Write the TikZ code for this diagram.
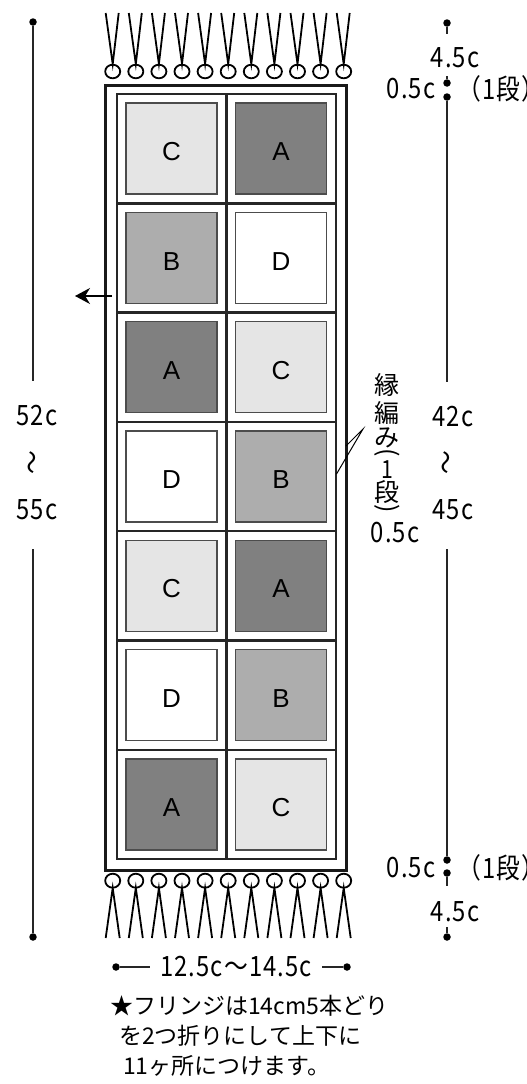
\documentclass[tikz,border=0pt]{standalone}
\usepackage{fontspec}
\setmainfont{Noto Sans CJK JP}
\newfontfamily\numfont{Noto Sans CJK JP}[FakeStretch=0.85,LetterSpace=4]
\newfontfamily\lettfont{Liberation Sans}
\usetikzlibrary{arrows.meta}
\definecolor{tileA}{gray}{0.50}
\definecolor{tileB}{gray}{0.68}
\definecolor{tileC}{gray}{0.90}
\definecolor{tileD}{gray}{1.00}
\tikzstyle{tile}=[draw=black!70,line width=1.3pt,minimum size=91pt,inner sep=0pt,text height=24pt,font=\lettfont\fontsize{26}{26}\selectfont]
\tikzstyle{dot}=[circle,fill=black,minimum size=7.5pt,inner sep=0pt]
\tikzstyle{dimtext}=[inner sep=0pt,font=\numfont\fontsize{28}{30}\selectfont]
\tikzstyle{kanji}=[inner sep=0pt,font=\fontsize{25}{28}\selectfont]
\tikzstyle{note}=[inner sep=0pt,font=\fontsize{23}{30}\selectfont]
\tikzstyle{dimline}=[line width=1.3pt,black!85]
\tikzstyle{fringe}=[line width=1.8pt]

\begin{document}
\begin{tikzpicture}[x=1pt,y=-1pt]
\useasboundingbox (0,0) rectangle (527,1084);

% mat
\draw[line width=3pt,black!90] (105,85) rectangle (346,870);
\draw[line width=2.6pt,black!85] (117,94) rectangle (336,859);
\draw[line width=2.4pt,black!85] (226.5,94) -- (226.5,859);
\foreach \k in {1,...,6}
  \draw[line width=2.4pt,black!85] (117,94+109.3*\k) -- (336,94+109.3*\k);

\node[tile,fill=tileC] at (171.5, 148.6) (q11) {C};
\node[tile,fill=tileA] at (281, 148.6) (q12) {A};
\node[tile,fill=tileB] at (171.5, 258) (q21) {B};
\node[tile,fill=tileD] at (281, 258) (q22) {D};
\node[tile,fill=tileA] at (171.5, 367.2) (q31) {A};
\node[tile,fill=tileC] at (281, 367.2) (q32) {C};
\node[tile,fill=tileD] at (171.5, 476.5) (q41) {D};
\node[tile,fill=tileB] at (281, 476.5) (q42) {B};
\node[tile,fill=tileC] at (171.5, 585.8) (q51) {C};
\node[tile,fill=tileA] at (281, 585.8) (q52) {A};
\node[tile,fill=tileD] at (171.5, 695.2) (q61) {D};
\node[tile,fill=tileB] at (281, 695.2) (q62) {B};
\node[tile,fill=tileA] at (171.5, 804.5) (q71) {A};
\node[tile,fill=tileC] at (281, 804.5) (q72) {C};

% fringes
\foreach \i in {0,...,10}{
  \pgfmathsetmacro\fx{112.7+23.1*\i}
  \draw[fringe] (\fx-7,13) -- (\fx,64) -- (\fx+6,13);
  \draw[fringe] (\fx,71.5) ellipse (7.5 and 6.8);
  \draw[fringe] (\fx,880.7) ellipse (7.5 and 7);
  \draw[fringe] (\fx-7,938) -- (\fx,888) -- (\fx+7,938);
}

% direction arrow
\coordinate (arrS) at (112,296);
\coordinate (arrE) at (75,296);
\draw[line width=1.3pt,-{Stealth[length=15pt,width=16pt]}] (arrS) -- (arrE);

% left length
\node[dot] at (33,22) (lt) {};
\node[dot] at (33,937) (lb) {};
\node[dimtext] at (37,416) (l52) {52c};
\node[dimtext] at (35,463) (lw) {\rotatebox{90}{〜}};
\node[dimtext] at (37,510) (l55) {55c};
\draw[dimline,shorten >=24pt] (lt) -- (lt |- l52.north);
\draw[dimline,shorten >=29pt] (lb) -- (lb |- l55.south);

% right length
\node[dot] at (447,23) (rt1) {};
\node[dot] at (447,83) (rt2) {};
\node[dot] at (447,97) (rt3) {};
\node[dot] at (447,860) (rb1) {};
\node[dot] at (447,873) (rb2) {};
\node[dot] at (447,937) (rb3) {};
\node[dimtext] at (455,58) (rfT) {4.5c};
\node[dimtext] at (411,89) (reT) {0.5c};
\node[dimtext,anchor=west] at (457,89) (rsT) {（1段）};
\node[dimtext] at (453,417) (r42) {42c};
\node[dimtext] at (449,463) (rw) {\rotatebox{90}{〜}};
\node[dimtext] at (453,510) (r45) {45c};
\node[dimtext] at (411,868) (reB) {0.5c};
\node[dimtext,anchor=west] at (457,868) (rsB) {（1段）};
\node[dimtext] at (455,912) (rfB) {4.5c};
\draw[dimline,shorten >=14pt] (rt1) -- (rt1 |- rfT.north);
\draw[dimline,shorten >=8pt] (rt2) -- (rt2 |- rfT.south);
\draw[dimline,shorten >=24pt] (rt3) -- (rt3 |- r42.north);
\draw[dimline,shorten >=29pt] (rb1) -- (rb1 |- r45.south);
\draw[dimline,shorten >=16pt] (rb2) -- (rb2 |- rfB.north);
\draw[dimline,shorten >=5pt] (rb3) -- (rb3 |- rfB.south);

% edging
\foreach \ch/\yy [count=\k] in {縁/385,編/413,み/438,\rotatebox{-90}{(}/453,\numfont 1/470,段/492,\rotatebox{-90}{)}/509}
  \node[kanji] at (387,\yy) (edg\k) {\ch};
\node[dimtext] at (395,533) (edg0) {0.5c};
\coordinate (ldr) at (363,429);
\coordinate (ldrIn) at (336.5,474);
\coordinate (ldrOut) at (346,446);
\draw[line width=1pt] (ldrIn) -- (ldr) -- (ldrOut);

% width
\node[dot] at (116,967) (wl) {};
\node[dot] at (347,967) (wr) {};
\node[dimtext,inner xsep=10pt] at (236,967) (wlab) {12.5c〜14.5c};
\draw[dimline] (wl) -- (wlab) -- (wr);

\node[note,align=left,anchor=north west] at (110,995) (memo) {★フリンジは14cm5本どり\\\hspace{9pt}を2つ折りにして上下に\\\hspace{13pt}11ヶ所につけます。};
\end{tikzpicture}
\end{document}
